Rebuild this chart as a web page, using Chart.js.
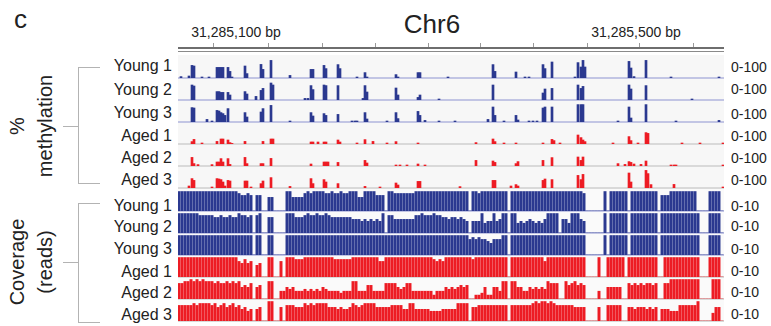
<!DOCTYPE html>
<html>
<head>
<meta charset="utf-8">
<title>Chr6 methylation and coverage</title>
<script src="https://cdn.jsdelivr.net/npm/chart.js@4.4.1/dist/chart.umd.min.js"></script>
<style>
  html, body { margin:0; padding:0; background:#fff; }
  #fig { position:relative; width:771px; height:326px; overflow:hidden;
         font-family:"Liberation Sans", Arial, Helvetica, sans-serif; color:#222; }
  #fig .t { position:absolute; white-space:nowrap; line-height:1; }
  #fig canvas { position:absolute; }
  #fig .ln { position:absolute; }
</style>
</head>
<body>
<div id="fig"></div>
<script>
// ---------- data ----------
const chromosome = 'Chr6';
const regionStart = 31285042;
const regionEnd = 31285588;
const rulerTicks = [31285077, 31285132, 31285186, 31285239, 31285292, 31285344, 31285397, 31285451, 31285503, 31285557];
const rulerLabels = [31285100, 31285500];
const sampleNames = ['Young 1', 'Young 2', 'Young 3', 'Aged 1', 'Aged 2', 'Aged 3'];
const methRangeLabel = '0-100';
const covRangeLabel = '0-10';

// CpG positions (bp) and % methylation per sample
const cpgSites = [31285045,31285053,31285056,31285058,31285062,31285066,31285071,31285073,31285076,31285081,
  31285083,31285085,31285087,31285089,31285092,31285094,31285096,31285109,31285111,31285115,
  31285120,31285125,31285127,31285135,31285137,31285154,31285169,31285172,31285175,31285177,
  31285182,31285188,31285190,31285192,31285202,31285204,31285216,31285219,31285221,31285227,
  31285229,31285231,31285237,31285244,31285251,31285260,31285262,31285264,31285271,31285282,
  31285284,31285289,31285303,31285312,31285319,31285324,31285340,31285352,31285357,31285359,
  31285368,31285375,31285380,31285382,31285389,31285393,31285397,31285401,31285407,31285409,
  31285416,31285418,31285424,31285439,31285442,31285445,31285447,31285449,31285477,31285482,
  31285489,31285493,31285495,31285498,31285502,31285505,31285510,31285512,31285515,31285535,
  31285538,31285540,31285546,31285556,31285564,31285583,31285587];
const methYoung1 = [7,10,63,60,0,5,0,5,0,53, 53,53,53,0,53,33,5,60,22,0, 0,68,43,88,0,13,0,0,43,43,
  0,63,47,0,67,47,0,0,5,0, 27,5,0,0,0,17,5,0,0,27, 27,0,0,5,0,0,0,0,67,33,
  0,0,30,0,5,5,0,0,67,47, 80,0,0,5,77,55,88,55,0,0, 0,83,50,7,0,0,88,0,0,5, 0,0,0,0,0,5,0];
const methYoung2 = [0,0,75,70,0,0,0,0,0,42, 42,38,38,0,38,25,0,42,30,0, 18,48,58,85,75,0,8,8,72,52,
  0,75,72,0,72,0,0,0,0,8, 72,40,0,0,0,60,25,0,0,13, 25,0,5,0,0,0,0,0,75,0,
  0,0,0,0,0,0,0,0,35,55, 58,0,0,0,75,58,68,0,0,0, 0,75,55,0,0,0,72,0,0,0, 0,0,0,5,0,0,0];
const methYoung3 = [0,0,72,70,0,0,13,0,5,58, 55,47,42,33,67,0,0,47,25,0, 0,50,67,83,0,5,0,0,47,30,
  0,42,33,0,38,0,5,5,5,0, 47,15,0,0,5,47,17,0,0,53, 33,8,5,0,5,0,0,13,75,33,
  5,0,33,10,0,5,5,5,70,75, 75,0,0,0,87,87,87,0,0,5, 0,75,20,0,0,0,87,0,0,0, 0,5,0,0,0,8,0];
const methAged1 = [0,0,12,23,0,5,0,0,0,13, 0,25,25,0,20,7,3,13,0,0, 0,0,13,25,25,0,0,0,10,10,
  10,10,10,0,20,10,0,0,5,0, 22,0,13,0,5,12,0,0,0,5, 0,0,0,0,0,0,7,0,25,12,
  5,0,5,0,0,0,0,0,5,0, 23,17,5,0,45,32,20,12,5,0, 0,37,17,0,5,0,57,53,0,0, 0,0,5,0,5,0,5];
const methAged2 = [0,0,43,12,7,0,0,0,7,20, 20,37,20,0,37,8,0,43,12,0, 0,12,12,38,0,0,0,0,10,0,
  0,20,20,20,18,0,0,0,0,0, 28,15,0,0,0,5,0,5,5,10, 0,5,0,0,0,0,28,0,25,18,
  0,0,12,22,0,0,0,0,28,0, 42,0,0,0,45,28,45,0,0,12, 8,22,18,10,0,8,25,0,0,5, 5,5,0,0,0,0,5];
const methAged3 = [0,10,47,38,0,0,0,0,5,47, 45,42,30,10,38,35,0,35,35,5, 0,22,35,52,0,8,0,0,47,22,
  0,42,30,0,22,0,0,0,0,0, 8,0,0,5,0,25,15,0,0,33, 33,0,0,0,0,7,0,0,38,38,
  0,10,17,10,0,0,0,0,38,45, 42,0,0,0,63,42,68,0,0,0, 0,75,30,0,0,0,88,72,17,0, 18,0,0,0,0,0,5];

// Read depth in 3-bp bins (bases s..s+2) starting at covBinStart
const covBinStart = 31285042;
const covBinSize = 3;
const covYoung1 = [10,10,10,10,10,10,10,10,10,10, 10,10,10,10,10,10,10,10,10,10,
  9,8,8,9,8,0,8,8,0,0, 7,7,0,0,0,0,10,10,7,7, 7,7,9,10,9,10,10,10,10,9, 9,10,9,9,10,9,9,10,10,10,
  7,7,10,10,10,10,8,8,8,0, 10,10,9,9,9,9,9,9,9,10, 10,10,10,10,10,10,10,10,10,10, 10,10,10,10,10,10,10,0,10,10,
  9,10,10,10,10,10,10,10,10,10, 0,10,10,10,10,10,10,10,10,10, 10,10,10,10,10,10,10,10,10,10, 10,10,10,10,10,9,0,0,0,0,
  0,0,10,0,10,10,10,10,10,10, 0,10,10,10,10,10,10,10,10,10, 0,8,8,8,10,10,10,10,10,10, 10,10,10,0,0,0,0,10,10,10, 10,0];
const covYoung2 = [10,10,10,10,10,10,10,9,9,9, 9,9,8,8,9,8,8,9,8,8,
  10,9,9,8,9,0,9,10,0,0, 8,8,0,0,0,0,10,10,10,8, 8,8,9,10,9,9,10,9,9,10, 9,8,8,8,8,8,8,8,7,7,
  7,6,7,6,7,6,7,6,10,0, 9,9,7,7,7,7,7,7,7,9, 9,10,9,9,9,10,9,9,8,8, 7,8,8,7,8,7,6,0,6,6,
  6,10,5,6,6,10,6,7,10,10, 0,10,10,5,6,5,6,7,6,5, 6,5,7,10,10,10,10,0,7,7, 5,10,10,10,7,6,0,0,0,0,
  0,0,10,0,10,10,10,10,10,10, 0,10,10,10,10,10,10,10,10,10, 0,10,10,10,10,10,10,10,10,10, 10,10,10,10,0,0,0,10,10,10, 10,0];
const covYoung3 = [10,10,10,10,10,10,10,10,10,10, 10,10,10,10,10,10,10,10,10,10,
  10,10,10,10,10,0,10,10,0,0, 10,10,0,0,0,0,10,10,10,10, 10,10,10,10,10,10,10,10,10,10, 10,10,10,10,10,10,10,10,10,10,
  10,10,10,10,10,10,10,10,10,10, 10,10,10,10,10,10,10,10,10,10, 10,10,10,10,10,10,10,10,10,10, 10,10,10,10,10,10,10,8,9,8,
  9,8,8,7,6,8,8,8,10,10, 0,10,10,10,10,10,10,10,10,10, 10,10,10,10,10,10,10,10,10,10, 10,10,10,10,10,10,0,0,0,0,
  0,0,10,0,10,10,10,10,10,10, 0,10,10,10,10,10,10,10,10,10, 0,10,10,10,10,10,10,10,10,10, 10,10,10,10,0,0,0,10,10,10, 10,0];
const covAged1 = [10,10,10,10,10,10,10,10,10,10, 10,10,10,10,10,10,10,10,10,10,
  8,7,9,7,8,0,6,7,0,0, 10,10,0,0,8,0,10,10,10,9, 9,9,10,10,10,10,10,10,10,10, 10,10,9,9,9,9,9,9,10,10,
  10,10,10,10,10,10,10,8,8,10, 10,10,10,10,10,10,10,10,10,10, 10,10,10,10,10,9,8,9,8,10, 10,10,10,10,10,10,10,10,9,10,
  10,10,10,10,10,10,10,10,10,10, 0,10,10,10,10,10,10,10,10,10, 10,10,8,10,10,10,10,10,10,10, 10,10,10,10,10,10,0,0,0,0,
  10,0,0,10,10,10,10,10,10,0, 10,10,10,10,10,10,10,10,10,10, 0,0,10,10,10,10,10,10,10,10, 10,10,10,10,0,0,0,10,10,10, 10,0];
const covAged2 = [8,8,9,9,10,9,10,9,10,9, 9,9,8,9,8,8,9,8,9,8,
  9,6,7,6,8,0,6,7,0,0, 9,9,0,0,4,4,6,5,6,4, 4,4,5,4,5,4,5,4,6,5, 4,4,4,4,3,4,4,4,9,9,
  4,4,4,7,7,4,4,4,4,8, 8,8,8,6,5,6,8,8,4,4, 4,4,4,4,4,2,4,4,4,6, 5,6,5,6,7,6,7,0,0,2,
  2,3,6,2,2,6,6,4,9,9, 0,9,9,6,6,4,4,6,5,6, 5,6,5,9,8,8,8,0,0,9, 7,8,9,7,8,7,0,0,0,0,
  4,0,0,6,6,6,6,6,0,0, 8,7,8,7,8,7,8,8,7,8, 0,0,8,8,10,10,10,10,10,10, 10,10,10,10,0,0,0,0,10,10, 10,0];
const covAged3 = [8,8,8,8,8,9,8,9,9,9, 9,8,9,7,8,9,7,8,9,7,
  8,6,7,5,6,0,6,7,0,0, 10,10,0,0,7,0,8,8,8,7, 7,7,9,8,9,8,9,9,9,9, 7,7,7,6,7,6,6,7,9,8,
  7,8,9,9,9,9,7,7,7,7, 7,8,8,8,8,6,6,9,9,6, 6,6,6,6,5,5,5,5,6,6, 6,6,6,9,9,9,9,0,7,7,
  8,8,8,8,8,8,8,8,8,8, 0,8,8,8,8,8,8,8,9,10, 9,10,10,9,10,9,8,8,8,8, 8,8,7,7,7,7,0,0,0,0,
  7,0,0,8,8,8,8,8,0,0, 7,7,6,7,7,7,6,7,6,7, 0,6,6,6,5,5,5,8,8,8, 8,8,8,10,0,0,0,0,4,7, 7,0];

// ---------- layout & style ----------
const PLOT_LEFT = 178, PLOT_WIDTH = 546, TRACK_H = 22;
const METH_TOP = 56, COV_TOP = 189;
const BLUE = '#2b3990', RED = '#ed1c24';
const BASE_BLUE = '#c2c5e4', BASE_GRAY = '#d9d9d9';
const methLabelBase = [71.5, 95.5, 119, 142, 163.5, 185.5];
const covLabelBase = [211.5, 233, 255, 277.5, 299, 321];
const methRangeBase = [71.5, 94, 119, 141, 162.5, 185];
const covRangeBase = [210.5, 231, 253.5, 275.5, 297, 318.5];

const fig = document.getElementById('fig');

function box(cls, css) {
  const d = document.createElement('div');
  d.className = cls;
  Object.assign(d.style, css);
  fig.appendChild(d);
  return d;
}
// place text by its baseline (Liberation Sans, line-height 1)
function text(str, x, baseline, size, align, color) {
  const top = baseline - 0.8465 * size;
  const css = { top: top + 'px', fontSize: size + 'px', color: color || '#222' };
  if (align === 'right') css.right = (771 - x) + 'px';
  else if (align === 'center') { css.left = (x - 150) + 'px'; css.width = '300px'; css.textAlign = 'center'; }
  else css.left = x + 'px';
  const d = box('t', css);
  d.textContent = str;
  return d;
}
function hline(x1, x2, y, w, color) {
  box('ln', { left: x1 + 'px', top: y + 'px', width: (x2 - x1) + 'px', height: w + 'px', background: color });
}
function vline(x, y1, y2, w, color) {
  box('ln', { left: x + 'px', top: y1 + 'px', width: w + 'px', height: (y2 - y1) + 'px', background: color });
}

// panel backgrounds
box('ln', { left: PLOT_LEFT + 'px', top: '55px', width: PLOT_WIDTH + 'px', height: '134px', background: '#f7f7f7' });
box('ln', { left: PLOT_LEFT + 'px', top: '189px', width: PLOT_WIDTH + 'px', height: '133px', background: '#fafafa' });

function trackChart(top, color, points, yMax, thickness) {
  const cv = document.createElement('canvas');
  cv.width = PLOT_WIDTH; cv.height = TRACK_H;
  cv.style.left = PLOT_LEFT + 'px'; cv.style.top = top + 'px';
  cv.style.width = PLOT_WIDTH + 'px'; cv.style.height = TRACK_H + 'px';
  fig.appendChild(cv);
  return new Chart(cv, {
    type: 'bar',
    data: { datasets: [{ data: points, backgroundColor: color, borderWidth: 0,
                         barThickness: thickness, grouped: false }] },
    options: {
      responsive: false, animation: false, events: [], devicePixelRatio: 1,
      layout: { padding: 0 },
      plugins: { legend: { display: false }, tooltip: { enabled: false } },
      scales: {
        x: { type: 'linear', display: false, min: regionStart, max: regionEnd, offset: false },
        y: { display: false, min: 0, max: yMax }
      }
    }
  });
}

const methSeries = [methYoung1, methYoung2, methYoung3, methAged1, methAged2, methAged3];
const covSeries = [covYoung1, covYoung2, covYoung3, covAged1, covAged2, covAged3];

methSeries.forEach((vals, k) => {
  const top = METH_TOP + k * TRACK_H;
  const aged = k >= 3;
  hline(PLOT_LEFT, PLOT_LEFT + PLOT_WIDTH, top + TRACK_H - 1, 2, aged ? BASE_GRAY : BASE_BLUE);
  const pts = [];
  cpgSites.forEach((pos, i) => { if (vals[i] > 0) pts.push({ x: pos, y: vals[i] }); });
  trackChart(top, aged ? RED : BLUE, pts, 110, 2);
  text(sampleNames[k], 172, methLabelBase[k], 16, 'right');
  text(methRangeLabel, 731, methRangeBase[k], 14, 'left');
});

covSeries.forEach((vals, k) => {
  const top = COV_TOP + k * TRACK_H;
  const aged = k >= 3;
  hline(PLOT_LEFT, PLOT_LEFT + PLOT_WIDTH, top + TRACK_H - 1, 1.5, aged ? BASE_GRAY : BASE_BLUE);
  // each bar sits on the middle base of its bin
  const pts = vals.map((v, i) => ({ x: covBinStart + covBinSize * i + 1, y: v }));
  trackChart(top, aged ? RED : BLUE, pts, 11.3, 2.3);
  text(sampleNames[k], 172, covLabelBase[k], 16, 'right');
  text(covRangeLabel, 731, covRangeBase[k], 14, 'left');
});

// ruler
const rulerCv = document.createElement('canvas');
rulerCv.width = PLOT_WIDTH; rulerCv.height = 8;
rulerCv.style.left = PLOT_LEFT + 'px'; rulerCv.style.top = '43px';
rulerCv.style.width = PLOT_WIDTH + 'px'; rulerCv.style.height = '8px';
fig.appendChild(rulerCv);
const ruler = new Chart(rulerCv, {
  type: 'scatter',
  data: { datasets: [] },
  options: {
    responsive: false, animation: false, events: [], devicePixelRatio: 1,
    layout: { padding: 0 },
    plugins: { legend: { display: false }, tooltip: { enabled: false } },
    scales: {
      x: { type: 'linear', position: 'top', min: regionStart, max: regionEnd,
           afterBuildTicks: s => { s.ticks = rulerTicks.map(v => ({ value: v })); },
           ticks: { display: false },
           grid: { drawOnChartArea: false, drawTicks: true, tickLength: 5, color: '#9a9a9a', lineWidth: 1 },
           border: { display: true, color: '#6e6e6e', width: 2 } },
      y: { display: false, min: 0, max: 1 }
    }
  }
});
hline(PLOT_LEFT, PLOT_LEFT + PLOT_WIDTH, 50.5, 1, '#8a8a8a');
rulerLabels.forEach(v => {
  const px = PLOT_LEFT + ruler.scales.x.getPixelForValue(v);
  text(v.toLocaleString('en-US') + ' bp', px, 36.5, 14, 'center');
});
text(chromosome, 432, 33.5, 26, 'center');
text('c', 14, 28, 26, 'left');

// group brackets and rotated titles
const BR = '#b3b3b3';
[[66.5, 183, 125.5, ['%', 'methylation']], [203, 321.5, 262, ['Coverage', '(reads)']]].forEach(([y1, y2, ym, lines]) => {
  vline(78, y1, y2 + 1, 1, BR);
  hline(78, 100, y1, 1, BR);
  hline(78, 100, y2, 1, BR);
  hline(63, 78, ym, 1, BR);
  const w = 160;
  const d = box('t', { left: (31 - w / 2) + 'px', top: (ym - 28) + 'px', width: w + 'px', height: '56px',
                        lineHeight: '28px', fontSize: '20px', textAlign: 'center',
                        transform: 'rotate(-90deg)', transformOrigin: '50% 50%' });
  d.innerHTML = lines.join('<br>');
});
</script>
</body>
</html>
